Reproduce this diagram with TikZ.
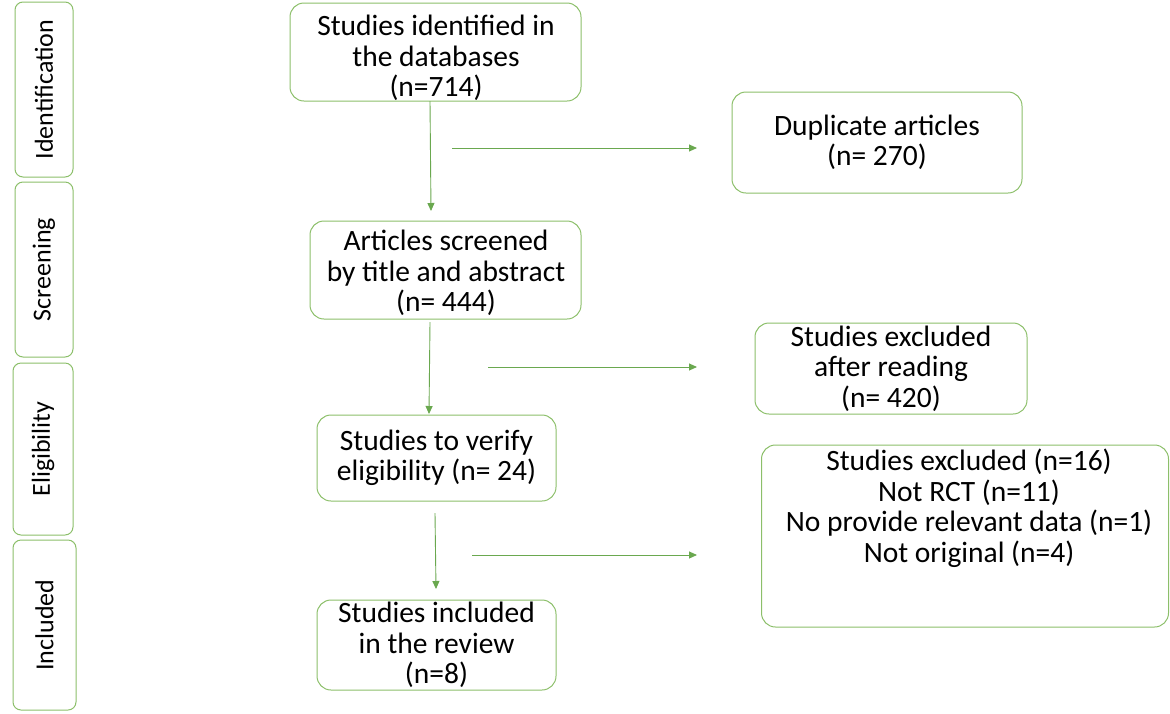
\documentclass[tikz,border=0pt]{standalone}
\usepackage{fontspec}
\setmainfont{Carlito}
\usetikzlibrary{arrows.meta}
\definecolor{boxgreen}{HTML}{8CBF6A}
\definecolor{arrgreen}{HTML}{6AA84F}
\begin{document}
\begin{tikzpicture}[x=1pt,y=-1pt,
  box/.style={draw=boxgreen, line width=1pt, rounded corners=14pt, align=center,
    font=\fontsize{29.5}{30.5}\selectfont, inner sep=0pt},
  boxtxt/.style={align=center, font=\fontsize{29.5}{30.5}\selectfont, inner sep=0pt},
  side/.style={draw=boxgreen, line width=1pt, rounded corners=8pt, inner sep=0pt},
  sidetxt/.style={rotate=90, font=\fontsize{26}{28}\selectfont, inner sep=0pt},
  arr/.style={draw=arrgreen, line width=0.9pt, -{Triangle[length=8pt,width=7pt]}}]
\useasboundingbox (0,0) rectangle (1170,713);

% side labels
\node[side, minimum width=58, minimum height=175] (sid) at (44,89.5) {};
\node[sidetxt] (tid) at (sid.center) {Identification};
\node[side, minimum width=58, minimum height=175] (ssc) at (44,269.5) {};
\node[sidetxt] (tsc) at (ssc.center) {Screening};
\node[side, minimum width=60, minimum height=172] (sel) at (43,449) {};
\node[sidetxt] (tel) at (sel.center) {Eligibility};
\node[side, minimum width=63, minimum height=170] (sin) at (44.5,625) {};
\node[sidetxt] (tin) at (sin.center) {Included};

% main boxes
\node[box, minimum width=291, minimum height=98] (A) at (435.5,52) {};
\node[boxtxt] (At) at (436,58) {Studies identified in\\the databases\\(n=714)};
\node[box, minimum width=290, minimum height=101] (dup) at (877,142.5) {Duplicate articles\\(n= 270)};
\node[box, minimum width=271, minimum height=98] (B) at (445.5,270) {};
\node[boxtxt] (Bt) at (446,273) {Articles screened\\by title and abstract\\(n= 444)};
\node[box, minimum width=272, minimum height=91] (exr) at (891,368.5) {Studies excluded\\after reading\\(n= 420)};
\node[box, minimum width=239, minimum height=86] (C) at (436.5,458) {Studies to verify\\eligibility (n= 24)};
\node[box, minimum width=407, minimum height=182] (D) at (965,536) {};
\node[boxtxt, anchor=north] (Dt) at (969,449)
  {Studies excluded (n=16)\\Not RCT (n=11)\\No provide relevant data (n=1)\\Not original (n=4)};
\node[box, minimum width=239, minimum height=90] (E) at (436.5,645) {Studies included\\in the review\\(n=8)};

% connector ends
\coordinate (a1) at (430,101);
\coordinate (a2) at (431,211);
\coordinate (h1s) at (452,148);
\coordinate (h1e) at (697,148);
\coordinate (b1) at (430,322);
\coordinate (b2) at (429,414);
\coordinate (h2s) at (488,367);
\coordinate (h2e) at (697,367);
\coordinate (c1) at (435,513);
\coordinate (c2) at (436,589);
\coordinate (h3s) at (472,555);
\coordinate (h3e) at (697,555);

\draw[arr] (a1) -- (a2);
\draw[arr] (h1s) -- (h1e);
\draw[arr] (b1) -- (b2);
\draw[arr] (h2s) -- (h2e);
\draw[arr] (c1) -- (c2);
\draw[arr] (h3s) -- (h3e);
\end{tikzpicture}
\end{document}
